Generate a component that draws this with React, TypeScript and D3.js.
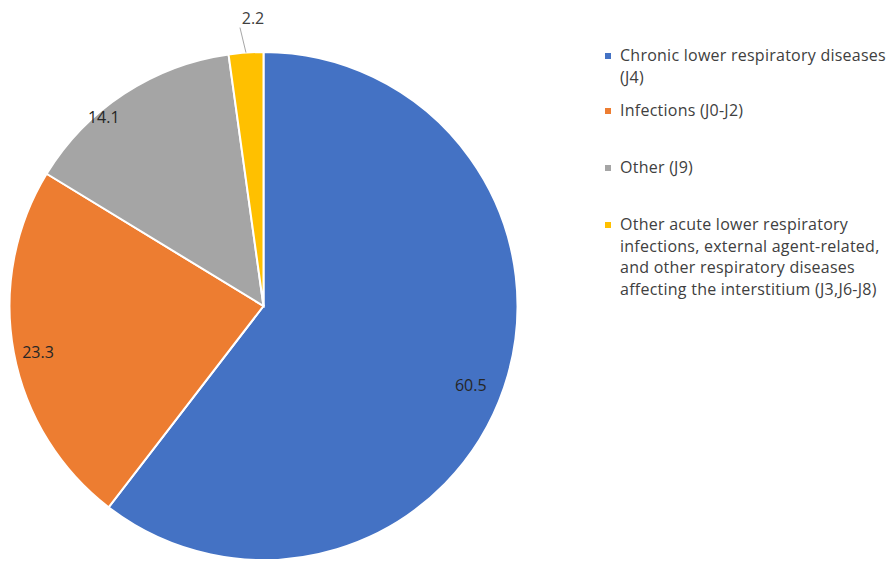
import React from "react";
import * as d3 from "d3";

const categories = [
  "Chronic lower respiratory diseases (J4)",
  "Infections (J0-J2)",
  "Other (J9)",
  "Other acute lower respiratory infections, external agent-related, and other respiratory diseases affecting the interstitium (J3,J6-J8)",
];
const values = [60.5, 23.3, 14.1, 2.2];
const colors = ["#4472C4", "#ED7D31", "#A5A5A5", "#FFC000"];
const legendLines = [
  ["Chronic lower respiratory diseases", "(J4)"],
  ["Infections (J0-J2)"],
  ["Other (J9)"],
  [
    "Other acute lower respiratory",
    "infections, external agent-related,",
    "and other respiratory diseases",
    "affecting the interstitium (J3,J6-J8)",
  ],
];

const W = 896;
const H = 561;
const cx = 263.5;
const cy = 306;
const R = 254;

export default function App() {
  const data = values.map((v, i) => ({ v, i, name: categories[i] }));
  const pie = d3.pie<any>().value((d) => d.v).sort(null);
  const arcs = pie(data);
  const arc = d3.arc<any>().innerRadius(0).outerRadius(R);
  const font = "'Open Sans', sans-serif";
  // label placement: radial fraction and angular offset (degrees) from slice middle
  const labelR = [0.873, 0.906, 0.973, 1.15];
  const labelOff = [2, -1, -7, 0];
  const legendY = [61, 116, 173, 230];
  const lineH = 21.5;
  return (
    <svg
      width={W}
      height={H}
      style={{ position: "absolute", left: 0, top: 0, background: "#fff" }}
    >
      <g transform={`translate(${cx},${cy})`}>
        {arcs.map((a, i) => (
          <path
            key={i}
            d={arc(a) as string}
            fill={colors[i]}
            stroke="#fff"
            strokeWidth={2}
          />
        ))}
        {arcs.map((a, i) => {
          const mid = (a.startAngle + a.endAngle) / 2;
          if (i === 3) {
            const x0 = Math.sin(mid) * R;
            const y0 = -Math.cos(mid) * R;
            const x1 = x0 - 6;
            const y1 = y0 - 25;
            return (
              <g key={i}>
                <line x1={x0} y1={y0} x2={x1} y2={y1} stroke="#a6a6a6" strokeWidth={1} />
                <text
                  x={x1 + 13}
                  y={y1 - 4}
                  fontSize={16}
                  fontFamily={font}
                  fill="#404040"
                  textAnchor="middle"
                >
                  {values[i]}
                </text>
              </g>
            );
          }
          const ang = mid + (labelOff[i] * Math.PI) / 180;
          const rr = R * labelR[i];
          const x = Math.sin(ang) * rr;
          const y = -Math.cos(ang) * rr;
          return (
            <text
              key={i}
              x={x}
              y={y}
              fontSize={16}
              fontFamily={font}
              fill="#262626"
              textAnchor="middle"
              dominantBaseline="central"
            >
              {values[i]}
            </text>
          );
        })}
      </g>
      {legendLines.map((lines, i) => (
        <g key={i}>
          <rect x={605} y={legendY[i] - 8} width={6} height={6} fill={colors[i]} />
          {lines.map((l, j) => (
            <text
              key={j}
              x={620}
              y={legendY[i] + j * lineH}
              fontSize={16}
              letterSpacing={0.25}
              fontFamily={font}
              fill="#404040"
            >
              {l}
            </text>
          ))}
        </g>
      ))}
    </svg>
  );
}
